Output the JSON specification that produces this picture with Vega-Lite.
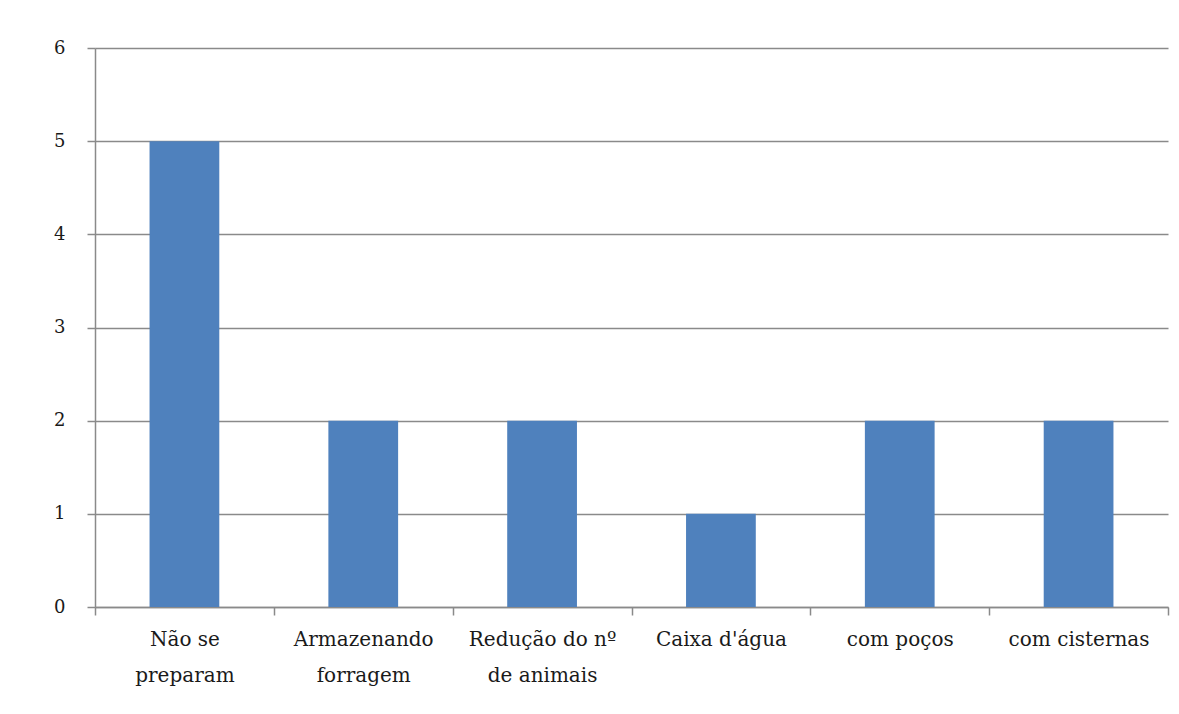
{
  "$schema": "https://vega.github.io/schema/vega-lite/v6.json",
  "autosize": {"type": "none"},
  "width": 1073,
  "height": 559,
  "padding": {"left": 95, "top": 48, "right": 11, "bottom": 107},
  "background": "white",
  "data": {
    "values": [
      {"categoria": "Não se preparam", "valor": 5},
      {"categoria": "Armazenando forragem", "valor": 2},
      {"categoria": "Redução do nº de animais", "valor": 2},
      {"categoria": "Caixa d'água", "valor": 1},
      {"categoria": "com poços", "valor": 2},
      {"categoria": "com cisternas", "valor": 2}
    ]
  },
  "mark": {"type": "bar", "color": "#4F81BD", "width": {"band": 0.39}},
  "encoding": {
    "x": {
      "field": "categoria",
      "type": "nominal",
      "sort": null,
      "title": null,
      "scale": {"paddingInner": 0, "paddingOuter": 0},
      "axis": {
        "labelAngle": 0,
        "tickBand": "extent",
        "labelExpr": "datum.value == 'Não se preparam' ? ['Não se', 'preparam'] : datum.value == 'Armazenando forragem' ? ['Armazenando', 'forragem'] : datum.value == 'Redução do nº de animais' ? ['Redução do nº', 'de animais'] : datum.value",
        "labelFont": "DejaVu Serif",
        "labelFontSize": 20,
        "labelLineHeight": 36,
        "labelColor": "#1a1a1a",
        "labelPadding": 14,
        "labelBaseline": "top",
        "tickSize": 8,
        "tickColor": "#8a8a8a",
        "tickWidth": 1.5,
        "domainColor": "#8a8a8a",
        "domainWidth": 1.5,
        "grid": false
      }
    },
    "y": {
      "field": "valor",
      "type": "quantitative",
      "title": null,
      "scale": {"domain": [0, 6], "nice": false},
      "axis": {
        "values": [0, 1, 2, 3, 4, 5, 6],
        "labelFont": "DejaVu Serif",
        "labelFontSize": 18,
        "labelColor": "#1a1a1a",
        "labelPadding": 22,
        "tickSize": 8,
        "tickColor": "#8a8a8a",
        "tickWidth": 1.5,
        "domainColor": "#8a8a8a",
        "domainWidth": 1.5,
        "grid": true,
        "gridColor": "#8a8a8a",
        "gridWidth": 1.5
      }
    }
  },
  "config": {
    "view": {"stroke": null}
  }
}
